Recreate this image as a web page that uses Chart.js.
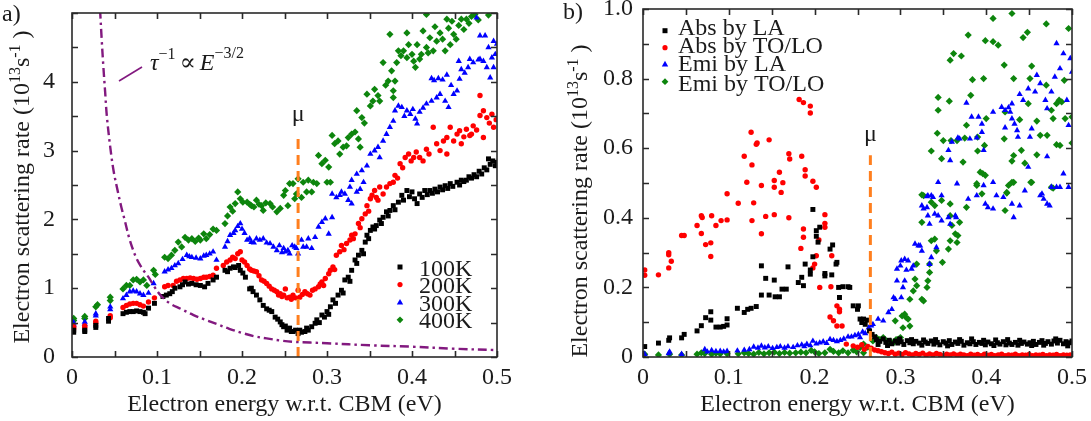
<!DOCTYPE html>
<html>
<head>
<meta charset="utf-8">
<script src="https://cdn.jsdelivr.net/npm/chart.js@4.4.1/dist/chart.umd.min.js"></script>
<style>
  html, body { margin: 0; padding: 0; background: #ffffff; }
  #wrap { position: relative; width: 1091px; height: 421px; overflow: hidden; }
  #ca { position: absolute; left: 0; top: 0; }
  #cb { position: absolute; left: 545px; top: 0; }
  .probe { position: absolute; left: -9999px; top: 0; font-family: "Liberation Serif", "DejaVu Serif", serif; font-size: 24px; }
</style>
</head>
<body>
<div id="wrap">
  <canvas id="ca" width="545" height="421"></canvas>
  <canvas id="cb" width="546" height="421"></canvas>
</div>
<span class="probe">Electron <i>E</i> &#956;</span>
<script>
// ---------- Panel a: total scattering rate vs energy at four temperatures ----------
const a100K = [[0.002,0.39],[0.002,0.36],[0.015,0.39],[0.015,0.37],[0.028,0.46],[0.028,0.43],[0.043,0.56],[0.043,0.52],[0.06,0.63],[0.064,0.65],[0.068,0.66],[0.072,0.66],[0.076,0.67],[0.08,0.66],[0.084,0.65],[0.086,0.63],[0.09,0.71],[0.097,0.78],[0.107,0.88],[0.111,0.9],[0.115,0.92],[0.118,0.95],[0.121,1.0],[0.127,1.02],[0.13,1.05],[0.133,1.09],[0.137,1.06],[0.141,1.07],[0.146,1.05],[0.151,1.04],[0.156,1.02],[0.16,1.07],[0.166,1.12],[0.17,1.16],[0.18,1.26],[0.183,1.24],[0.186,1.29],[0.19,1.31],[0.192,1.3],[0.196,1.33],[0.198,1.26],[0.201,1.22],[0.204,1.16],[0.209,0.99],[0.211,1.0],[0.213,0.95],[0.217,0.9],[0.221,0.83],[0.225,0.75],[0.229,0.7],[0.232,0.68],[0.235,0.66],[0.239,0.58],[0.242,0.55],[0.245,0.51],[0.247,0.47],[0.249,0.44],[0.251,0.45],[0.253,0.39],[0.256,0.42],[0.258,0.37],[0.26,0.37],[0.263,0.39],[0.266,0.34],[0.268,0.39],[0.27,0.36],[0.274,0.37],[0.276,0.42],[0.278,0.39],[0.282,0.44],[0.286,0.49],[0.288,0.54],[0.291,0.5],[0.294,0.61],[0.297,0.58],[0.3,0.66],[0.302,0.62],[0.304,0.73],[0.307,0.83],[0.31,0.78],[0.313,0.9],[0.317,0.97],[0.319,0.93],[0.321,1.12],[0.325,1.16],[0.327,1.1],[0.329,1.26],[0.333,1.41],[0.335,1.36],[0.337,1.48],[0.341,1.55],[0.343,1.5],[0.345,1.67],[0.347,1.77],[0.349,1.72],[0.351,1.84],[0.354,1.89],[0.356,1.86],[0.358,1.91],[0.362,1.99],[0.364,1.94],[0.366,2.03],[0.37,2.11],[0.372,2.05],[0.374,2.13],[0.378,2.2],[0.38,2.14],[0.384,2.25],[0.388,2.35],[0.39,2.28],[0.394,2.42],[0.397,2.33],[0.4,2.4],[0.403,2.3],[0.406,2.23],[0.409,2.37],[0.412,2.32],[0.415,2.42],[0.418,2.36],[0.421,2.42],[0.424,2.38],[0.427,2.44],[0.43,2.4],[0.433,2.47],[0.436,2.43],[0.439,2.49],[0.442,2.45],[0.445,2.52],[0.448,2.48],[0.453,2.54],[0.456,2.5],[0.458,2.57],[0.461,2.55],[0.464,2.57],[0.467,2.62],[0.47,2.6],[0.473,2.65],[0.476,2.62],[0.479,2.7],[0.482,2.66],[0.485,2.75],[0.488,2.72],[0.49,2.88],[0.492,2.8],[0.495,2.85],[0.498,2.78],[0.5,2.83]];

const a200K = [[0.002,0.44],[0.002,0.41],[0.015,0.45],[0.015,0.43],[0.028,0.52],[0.028,0.49],[0.045,0.6],[0.045,0.57],[0.06,0.72],[0.064,0.75],[0.068,0.77],[0.072,0.78],[0.076,0.78],[0.08,0.76],[0.084,0.74],[0.09,0.8],[0.097,0.86],[0.109,1.02],[0.113,1.04],[0.119,1.04],[0.123,1.1],[0.127,1.12],[0.131,1.14],[0.135,1.14],[0.139,1.15],[0.143,1.14],[0.147,1.13],[0.151,1.14],[0.155,1.16],[0.158,1.16],[0.162,1.17],[0.166,1.19],[0.17,1.29],[0.178,1.33],[0.182,1.38],[0.186,1.41],[0.189,1.45],[0.192,1.43],[0.195,1.5],[0.198,1.53],[0.2,1.41],[0.203,1.38],[0.206,1.33],[0.209,1.28],[0.211,1.26],[0.214,1.25],[0.217,1.24],[0.22,1.18],[0.223,1.12],[0.226,1.1],[0.229,1.07],[0.232,1.03],[0.235,0.99],[0.238,0.97],[0.241,0.95],[0.243,0.9],[0.245,0.92],[0.247,0.88],[0.249,0.9],[0.251,0.99],[0.253,0.86],[0.256,0.87],[0.258,0.84],[0.26,0.9],[0.263,0.86],[0.266,0.97],[0.268,0.87],[0.271,0.91],[0.274,0.95],[0.277,0.92],[0.28,0.9],[0.283,0.97],[0.286,0.99],[0.29,1.02],[0.292,1.06],[0.294,1.09],[0.296,1.04],[0.298,1.14],[0.302,1.21],[0.304,1.26],[0.307,1.31],[0.309,1.27],[0.311,1.48],[0.315,1.53],[0.317,1.62],[0.32,1.56],[0.323,1.65],[0.327,1.7],[0.329,1.77],[0.331,1.72],[0.333,1.79],[0.337,1.94],[0.339,1.88],[0.341,2.01],[0.345,2.08],[0.347,2.2],[0.349,2.12],[0.351,2.3],[0.353,2.35],[0.356,2.42],[0.358,2.32],[0.36,2.28],[0.362,2.47],[0.366,2.37],[0.37,2.47],[0.374,2.52],[0.378,2.54],[0.38,2.64],[0.383,2.6],[0.386,2.81],[0.389,2.75],[0.392,2.9],[0.396,2.95],[0.399,2.85],[0.402,2.9],[0.405,2.98],[0.409,2.9],[0.413,2.85],[0.417,3.02],[0.42,2.95],[0.425,3.34],[0.429,3.1],[0.433,3.0],[0.437,3.14],[0.441,3.19],[0.441,2.95],[0.445,3.34],[0.449,3.14],[0.453,3.24],[0.456,3.29],[0.458,3.1],[0.461,3.2],[0.464,3.31],[0.468,3.22],[0.47,3.24],[0.472,3.36],[0.476,3.3],[0.48,3.51],[0.48,3.8],[0.484,3.58],[0.484,3.19],[0.488,3.48],[0.491,3.4],[0.494,3.53],[0.496,3.34],[0.499,3.45]];

const a300K = [[0.002,0.5],[0.002,0.47],[0.015,0.51],[0.015,0.48],[0.028,0.63],[0.028,0.6],[0.045,0.73],[0.045,0.69],[0.06,0.85],[0.064,0.9],[0.068,0.95],[0.072,0.96],[0.076,0.95],[0.08,0.92],[0.084,0.9],[0.09,0.93],[0.096,1.07],[0.109,1.24],[0.113,1.27],[0.117,1.29],[0.121,1.33],[0.125,1.36],[0.13,1.42],[0.135,1.48],[0.138,1.46],[0.141,1.45],[0.146,1.44],[0.151,1.43],[0.155,1.47],[0.158,1.48],[0.162,1.5],[0.166,1.53],[0.17,1.41],[0.18,1.6],[0.183,1.68],[0.186,1.77],[0.19,1.8],[0.192,1.84],[0.195,1.9],[0.198,1.94],[0.2,1.86],[0.203,1.8],[0.206,1.7],[0.209,1.72],[0.211,1.67],[0.214,1.66],[0.217,1.72],[0.221,1.7],[0.225,1.72],[0.229,1.66],[0.233,1.65],[0.237,1.6],[0.241,1.55],[0.244,1.62],[0.247,1.52],[0.249,1.58],[0.251,1.53],[0.254,1.55],[0.256,1.5],[0.259,1.62],[0.262,1.6],[0.264,1.58],[0.266,1.5],[0.27,1.7],[0.272,1.6],[0.276,1.6],[0.278,1.72],[0.282,1.58],[0.286,1.74],[0.29,1.89],[0.294,1.96],[0.298,2.01],[0.302,1.79],[0.306,2.03],[0.306,2.37],[0.311,2.32],[0.315,2.35],[0.317,2.4],[0.321,2.37],[0.325,2.28],[0.327,2.47],[0.329,2.23],[0.329,2.57],[0.335,2.4],[0.335,2.66],[0.339,2.44],[0.341,2.71],[0.343,2.54],[0.347,2.78],[0.351,2.95],[0.356,3.0],[0.36,3.05],[0.362,2.9],[0.366,3.14],[0.37,3.24],[0.374,3.34],[0.378,3.43],[0.38,3.58],[0.384,3.65],[0.388,3.63],[0.391,3.5],[0.394,3.58],[0.398,3.53],[0.401,3.6],[0.404,3.46],[0.406,3.39],[0.409,3.56],[0.413,3.62],[0.417,3.68],[0.423,3.72],[0.423,4.05],[0.426,4.02],[0.429,3.77],[0.431,4.05],[0.433,3.82],[0.436,4.03],[0.439,3.72],[0.441,4.1],[0.443,3.63],[0.446,3.95],[0.449,3.82],[0.453,3.87],[0.455,4.3],[0.456,4.04],[0.458,4.18],[0.462,4.13],[0.466,4.21],[0.468,4.33],[0.472,4.28],[0.476,4.93],[0.478,4.32],[0.48,4.33],[0.48,4.67],[0.484,4.3],[0.486,4.67],[0.488,4.21],[0.49,4.5],[0.492,4.06],[0.494,4.35],[0.496,4.21],[0.496,4.59],[0.498,4.4],[0.5,4.55]];

const a400K = [[0.002,0.56],[0.002,0.53],[0.015,0.59],[0.015,0.56],[0.028,0.73],[0.03,0.76],[0.045,0.87],[0.045,0.82],[0.06,0.99],[0.064,1.04],[0.068,1.04],[0.072,1.12],[0.076,1.13],[0.08,1.09],[0.084,1.12],[0.088,1.04],[0.096,1.26],[0.098,1.2],[0.109,1.45],[0.113,1.43],[0.117,1.48],[0.121,1.55],[0.125,1.67],[0.129,1.6],[0.133,1.74],[0.137,1.7],[0.141,1.72],[0.145,1.68],[0.149,1.73],[0.151,1.7],[0.155,1.79],[0.158,1.72],[0.162,1.78],[0.166,1.86],[0.17,1.84],[0.18,1.94],[0.183,2.05],[0.186,2.18],[0.189,2.12],[0.192,2.23],[0.195,2.4],[0.198,2.3],[0.201,2.25],[0.206,2.25],[0.209,2.22],[0.211,2.2],[0.214,2.18],[0.217,2.28],[0.22,2.22],[0.223,2.2],[0.225,2.13],[0.228,2.24],[0.233,2.23],[0.236,2.18],[0.241,2.11],[0.245,2.16],[0.249,2.35],[0.251,2.42],[0.254,2.2],[0.256,2.52],[0.26,2.52],[0.262,2.3],[0.264,2.37],[0.266,2.59],[0.27,2.32],[0.272,2.54],[0.276,2.4],[0.278,2.57],[0.282,2.4],[0.284,2.54],[0.288,2.52],[0.29,2.93],[0.294,2.81],[0.298,2.86],[0.3,2.54],[0.302,2.76],[0.304,2.54],[0.306,3.22],[0.309,3.1],[0.313,3.14],[0.315,2.95],[0.319,3.05],[0.323,3.07],[0.325,3.19],[0.329,3.24],[0.333,3.27],[0.335,3.58],[0.337,3.17],[0.339,3.05],[0.341,3.48],[0.344,3.4],[0.347,3.82],[0.351,3.65],[0.354,3.72],[0.356,3.89],[0.36,3.8],[0.362,3.72],[0.366,4.28],[0.369,3.95],[0.372,4.01],[0.374,4.69],[0.376,4.16],[0.378,3.87],[0.378,3.77],[0.38,4.01],[0.382,4.28],[0.384,4.45],[0.387,4.38],[0.39,4.45],[0.394,4.35],[0.394,4.71],[0.396,4.54],[0.4,4.4],[0.402,4.3],[0.404,4.21],[0.406,4.54],[0.409,4.33],[0.411,4.4],[0.413,4.74],[0.417,4.5],[0.417,4.98],[0.419,4.42],[0.421,4.64],[0.425,4.45],[0.427,4.8],[0.429,4.59],[0.433,4.71],[0.436,4.62],[0.439,4.45],[0.441,4.91],[0.443,4.78],[0.445,4.54],[0.447,4.88],[0.449,4.69],[0.452,4.62],[0.455,4.82],[0.458,4.91],[0.461,4.76],[0.464,4.91],[0.467,4.85],[0.47,4.95],[0.474,4.98],[0.478,4.9],[0.49,4.97]];

// guide curve tau^-1 ~ E^-3/2
const curveE    = [0.033,0.035,0.037,0.039,0.041,0.045,0.049,0.054,0.058,0.062,0.068,0.076,0.083,0.09,0.097,0.104,0.115,0.128,0.143,0.157,0.17,0.185,0.2,0.215,0.229,0.245,0.26,0.28,0.3,0.35,0.4,0.45,0.5];
const curveRate = [5.05,4.6,4.2,3.85,3.5,3.05,2.7,2.4,2.18,1.99,1.7,1.43,1.28,1.16,1.02,0.9,0.78,0.7,0.61,0.54,0.48,0.41,0.35,0.3,0.27,0.24,0.22,0.21,0.2,0.17,0.15,0.12,0.1];

// chemical potential marker (energy, line top)
const muA = [0.266, 3.22];

// ---------- Panel b: absorption / emission channels at one temperature ----------
const bAbsLA = [[0.002,0.03],[0.018,0.04],[0.03,0.048],[0.031,0.055],[0.045,0.055],[0.048,0.065],[0.063,0.075],[0.068,0.09],[0.073,0.113],[0.079,0.13],[0.079,0.106],[0.085,0.086],[0.09,0.086],[0.094,0.088],[0.098,0.11],[0.098,0.092],[0.11,0.14],[0.118,0.128],[0.122,0.137],[0.126,0.14],[0.132,0.145],[0.138,0.262],[0.138,0.178],[0.143,0.226],[0.147,0.178],[0.153,0.221],[0.154,0.173],[0.159,0.173],[0.162,0.195],[0.167,0.195],[0.169,0.259],[0.181,0.214],[0.185,0.229],[0.187,0.205],[0.189,0.267],[0.195,0.238],[0.195,0.25],[0.198,0.288],[0.198,0.424],[0.202,0.363],[0.202,0.347],[0.206,0.373],[0.204,0.33],[0.212,0.24],[0.212,0.233],[0.22,0.236],[0.218,0.31],[0.221,0.322],[0.226,0.272],[0.225,0.267],[0.229,0.171],[0.228,0.2],[0.233,0.202],[0.239,0.202],[0.241,0.2],[0.245,0.147],[0.251,0.147],[0.25,0.137],[0.253,0.109],[0.257,0.109],[0.255,0.099],[0.259,0.094],[0.261,0.106],[0.264,0.075],[0.267,0.065],[0.27,0.058],[0.272,0.05],[0.276,0.045],[0.28,0.052],[0.283,0.042],[0.287,0.048],[0.29,0.038],[0.294,0.046],[0.297,0.04],[0.301,0.044],[0.304,0.036],[0.308,0.047],[0.311,0.041],[0.315,0.038],[0.318,0.045],[0.322,0.04],[0.325,0.034],[0.329,0.043],[0.332,0.039],[0.336,0.046],[0.339,0.037],[0.343,0.042],[0.346,0.035],[0.35,0.044],[0.353,0.04],[0.357,0.047],[0.36,0.036],[0.364,0.043],[0.367,0.039],[0.371,0.045],[0.374,0.034],[0.378,0.041],[0.381,0.038],[0.385,0.044],[0.388,0.036],[0.392,0.042],[0.395,0.039],[0.399,0.035],[0.402,0.043],[0.406,0.038],[0.409,0.033],[0.413,0.041],[0.416,0.037],[0.42,0.044],[0.423,0.035],[0.427,0.04],[0.43,0.036],[0.434,0.042],[0.437,0.034],[0.441,0.039],[0.444,0.043],[0.448,0.037],[0.451,0.041],[0.455,0.045],[0.458,0.036],[0.462,0.042],[0.465,0.047],[0.469,0.039],[0.472,0.044],[0.476,0.037],[0.479,0.046],[0.483,0.04],[0.486,0.048],[0.49,0.038],[0.493,0.044],[0.497,0.041],[0.5,0.046],[0.274,0.036],[0.285,0.033],[0.299,0.052],[0.313,0.05],[0.327,0.049],[0.341,0.05],[0.355,0.032],[0.369,0.05],[0.383,0.052],[0.397,0.048],[0.411,0.049],[0.425,0.05],[0.439,0.048],[0.453,0.033],[0.467,0.034],[0.481,0.052],[0.495,0.032]];

const bAbsTO = [[0.002,0.25],[0.002,0.235],[0.018,0.236],[0.03,0.3],[0.03,0.294],[0.03,0.256],[0.033,0.275],[0.045,0.349],[0.048,0.349],[0.063,0.378],[0.068,0.406],[0.069,0.401],[0.068,0.355],[0.073,0.323],[0.079,0.328],[0.079,0.289],[0.08,0.406],[0.085,0.378],[0.091,0.392],[0.098,0.394],[0.098,0.469],[0.111,0.442],[0.118,0.577],[0.121,0.502],[0.126,0.646],[0.127,0.552],[0.127,0.392],[0.129,0.443],[0.132,0.611],[0.133,0.615],[0.138,0.493],[0.138,0.354],[0.143,0.404],[0.147,0.624],[0.153,0.507],[0.153,0.488],[0.153,0.409],[0.159,0.531],[0.161,0.473],[0.163,0.501],[0.17,0.4],[0.17,0.584],[0.171,0.569],[0.182,0.74],[0.184,0.312],[0.185,0.577],[0.187,0.731],[0.187,0.368],[0.187,0.344],[0.189,0.538],[0.189,0.52],[0.195,0.721],[0.195,0.701],[0.198,0.505],[0.198,0.256],[0.2,0.267],[0.202,0.488],[0.202,0.291],[0.205,0.336],[0.206,0.2],[0.212,0.409],[0.212,0.384],[0.212,0.373],[0.22,0.291],[0.219,0.202],[0.226,0.147],[0.229,0.137],[0.229,0.13],[0.218,0.115],[0.222,0.104],[0.226,0.089],[0.232,0.089],[0.237,0.037],[0.245,0.032],[0.25,0.028],[0.255,0.035],[0.258,0.022],[0.262,0.03],[0.266,0.025],[0.27,0.02],[0.274,0.018],[0.278,0.015],[0.282,0.012],[0.286,0.01],[0.29,0.014],[0.294,0.008],[0.298,0.011],[0.302,0.007],[0.306,0.012],[0.31,0.009],[0.314,0.006],[0.318,0.01],[0.322,0.007],[0.326,0.011],[0.33,0.005],[0.334,0.009],[0.338,0.006],[0.342,0.01],[0.346,0.007],[0.35,0.004],[0.354,0.008],[0.358,0.006],[0.362,0.009],[0.366,0.005],[0.37,0.008],[0.374,0.006],[0.378,0.004],[0.382,0.008],[0.386,0.005],[0.39,0.007],[0.394,0.004],[0.398,0.008],[0.402,0.005],[0.406,0.007],[0.41,0.004],[0.414,0.006],[0.418,0.008],[0.422,0.004],[0.426,0.006],[0.43,0.005],[0.434,0.008],[0.438,0.004],[0.442,0.006],[0.446,0.005],[0.45,0.007],[0.454,0.004],[0.458,0.006],[0.462,0.005],[0.466,0.007],[0.47,0.004],[0.474,0.006],[0.478,0.005],[0.482,0.007],[0.486,0.004],[0.49,0.006],[0.494,0.005],[0.498,0.006]];

const bEmiLA = [[0.002,0.008],[0.031,0.015],[0.03,0.01],[0.045,0.008],[0.072,0.022],[0.075,0.015],[0.08,0.019],[0.085,0.016],[0.09,0.017],[0.094,0.015],[0.098,0.017],[0.11,0.018],[0.118,0.02],[0.124,0.022],[0.129,0.029],[0.134,0.026],[0.138,0.032],[0.142,0.027],[0.146,0.03],[0.151,0.025],[0.156,0.028],[0.16,0.03],[0.165,0.026],[0.169,0.03],[0.175,0.028],[0.18,0.033],[0.185,0.035],[0.188,0.03],[0.191,0.037],[0.195,0.033],[0.198,0.046],[0.202,0.038],[0.206,0.041],[0.21,0.044],[0.214,0.04],[0.218,0.051],[0.222,0.048],[0.226,0.045],[0.23,0.048],[0.234,0.052],[0.239,0.058],[0.243,0.058],[0.247,0.062],[0.251,0.065],[0.253,0.056],[0.256,0.072],[0.259,0.068],[0.263,0.084],[0.266,0.09],[0.268,0.094],[0.274,0.109],[0.28,0.104],[0.286,0.128],[0.29,0.137],[0.292,0.171],[0.294,0.166],[0.296,0.219],[0.301,0.171],[0.303,0.2],[0.305,0.219],[0.296,0.253],[0.3,0.262],[0.301,0.277],[0.305,0.281],[0.309,0.277],[0.307,0.25],[0.313,0.253],[0.315,0.262],[0.317,0.325],[0.321,0.32],[0.325,0.305],[0.323,0.32],[0.336,0.286],[0.334,0.267],[0.342,0.315],[0.325,0.435],[0.327,0.426],[0.331,0.43],[0.332,0.406],[0.334,0.382],[0.332,0.464],[0.338,0.459],[0.34,0.411],[0.344,0.406],[0.348,0.392],[0.356,0.401],[0.358,0.382],[0.364,0.406],[0.365,0.401],[0.344,0.502],[0.348,0.464],[0.366,0.498],[0.379,0.454],[0.389,0.464],[0.397,0.493],[0.399,0.44],[0.402,0.43],[0.408,0.426],[0.408,0.502],[0.412,0.464],[0.42,0.459],[0.43,0.44],[0.432,0.401],[0.439,0.435],[0.445,0.478],[0.463,0.464],[0.467,0.454],[0.471,0.44],[0.474,0.435],[0.476,0.488],[0.482,0.488],[0.486,0.488],[0.496,0.488],[0.331,0.461],[0.336,0.464],[0.358,0.565],[0.356,0.594],[0.36,0.618],[0.367,0.63],[0.377,0.73],[0.369,0.627],[0.381,0.627],[0.383,0.69],[0.391,0.69],[0.395,0.67],[0.389,0.63],[0.395,0.646],[0.397,0.594],[0.408,0.704],[0.418,0.718],[0.422,0.709],[0.426,0.717],[0.43,0.728],[0.428,0.704],[0.43,0.685],[0.422,0.659],[0.433,0.67],[0.436,0.651],[0.437,0.632],[0.439,0.755],[0.443,0.738],[0.449,0.771],[0.453,0.656],[0.451,0.632],[0.457,0.762],[0.459,0.81],[0.463,0.786],[0.469,0.738],[0.471,0.714],[0.476,0.762],[0.48,0.805],[0.486,0.829],[0.482,0.901],[0.49,0.872],[0.498,0.858],[0.5,0.819],[0.494,0.738],[0.496,0.666],[0.471,0.576],[0.49,0.527],[0.465,0.469],[0.449,0.546]];

const bEmiTO = [[0.002,0.008],[0.018,0.006],[0.031,0.008],[0.045,0.006],[0.063,0.008],[0.068,0.012],[0.072,0.01],[0.08,0.008],[0.085,0.011],[0.09,0.009],[0.098,0.009],[0.111,0.009],[0.118,0.012],[0.123,0.01],[0.129,0.008],[0.135,0.013],[0.141,0.009],[0.147,0.012],[0.153,0.014],[0.159,0.01],[0.165,0.013],[0.171,0.011],[0.178,0.012],[0.184,0.014],[0.19,0.012],[0.196,0.019],[0.2,0.015],[0.205,0.01],[0.212,0.012],[0.218,0.022],[0.222,0.016],[0.228,0.012],[0.233,0.018],[0.239,0.012],[0.245,0.02],[0.249,0.015],[0.253,0.027],[0.257,0.012],[0.257,0.037],[0.262,0.028],[0.268,0.046],[0.272,0.056],[0.276,0.05],[0.28,0.056],[0.284,0.046],[0.288,0.046],[0.292,0.041],[0.295,0.05],[0.298,0.051],[0.3,0.056],[0.303,0.084],[0.307,0.113],[0.309,0.109],[0.311,0.089],[0.305,0.123],[0.302,0.118],[0.294,0.104],[0.311,0.166],[0.315,0.19],[0.319,0.205],[0.325,0.166],[0.327,0.161],[0.317,0.224],[0.331,0.2],[0.332,0.219],[0.334,0.243],[0.334,0.267],[0.319,0.267],[0.342,0.305],[0.34,0.339],[0.336,0.334],[0.349,0.272],[0.356,0.31],[0.358,0.334],[0.36,0.378],[0.364,0.354],[0.366,0.329],[0.367,0.349],[0.369,0.387],[0.358,0.406],[0.325,0.387],[0.327,0.464],[0.336,0.445],[0.34,0.435],[0.348,0.45],[0.358,0.44],[0.377,0.43],[0.389,0.493],[0.395,0.469],[0.424,0.473],[0.422,0.421],[0.426,0.493],[0.432,0.502],[0.453,0.502],[0.476,0.488],[0.408,0.973],[0.43,0.987],[0.47,0.957],[0.496,0.944],[0.379,0.925],[0.399,0.909],[0.408,0.906],[0.414,0.896],[0.443,0.918],[0.448,0.933],[0.362,0.872],[0.358,0.853],[0.371,0.865],[0.421,0.839],[0.453,0.836],[0.384,0.797],[0.397,0.8],[0.432,0.8],[0.451,0.8],[0.491,0.795],[0.47,0.781],[0.344,0.746],[0.357,0.735],[0.382,0.752],[0.344,0.709],[0.485,0.738],[0.488,0.733],[0.482,0.728],[0.449,0.728],[0.422,0.704],[0.476,0.709],[0.478,0.685],[0.492,0.685],[0.459,0.678],[0.439,0.682],[0.4,0.685],[0.377,0.666],[0.343,0.643],[0.35,0.622],[0.359,0.622],[0.366,0.622],[0.375,0.629],[0.39,0.632],[0.398,0.608],[0.421,0.627],[0.441,0.594],[0.463,0.637],[0.471,0.637],[0.482,0.61],[0.486,0.608],[0.336,0.592],[0.348,0.57],[0.373,0.56],[0.39,0.592],[0.432,0.579],[0.43,0.563],[0.445,0.557],[0.459,0.581],[0.478,0.485],[0.393,0.531],[0.396,0.527],[0.399,0.522],[0.43,0.502],[0.452,0.502],[0.389,0.498],[0.424,0.471],[0.325,0.466],[0.5,0.69],[0.5,0.615]];

const muB = [0.265, 0.58];

// tick labels
const xLabels  = ['0', '0.1', '0.2', '0.3', '0.4', '0.5'];
const yLabelsA = ['0', '1', '2', '3', '4'];
const yLabelsB = ['0', '0.2', '0.4', '0.6', '0.8', '1.0'];

// series names
const namesA = ['100K', '200K', '300K', '400K'];
const namesB = ['Abs by LA', 'Abs by TO/LO', 'Emi by LA', 'Emi by TO/LO'];

// ---------- styling ----------
const SERIF = '"Liberation Serif", "DejaVu Serif", serif';
const INK = '#1b1b1b';
const COLORS = ['#000000', '#ff0000', '#0000ff', '#0d850d'];
const SHAPES = ['rect', 'circle', 'triangle', 'rectRot'];
const RADII  = [3.5, 2.7, 3.6, 3.6];
const PURPLE = '#82197f';
const ORANGE = '#ff7f1e';

const toXY = arr => arr.map(([x, y]) => ({ x, y }));

function scatterSet(label, data, i) {
  return {
    type: 'scatter', label, data: toXY(data), showLine: false,
    pointStyle: SHAPES[i], pointRadius: RADII[i], pointBorderWidth: 0,
    backgroundColor: COLORS[i], borderColor: COLORS[i], pointHoverRadius: RADII[i]
  };
}

// measure / draw text with super-script parts
function richWidth(ctx, parts) {
  let w = 0;
  for (const p of parts) { ctx.font = p.font; w += ctx.measureText(p.t).width + (p.gap || 0); }
  return w;
}
function drawRich(ctx, parts, x, y, align) {
  const w = richWidth(ctx, parts);
  let cx = align === 'center' ? x - w / 2 : align === 'right' ? x - w : x;
  ctx.textAlign = 'left';
  ctx.textBaseline = 'alphabetic';
  for (const p of parts) {
    ctx.font = p.font;
    ctx.fillText(p.t, cx, y - (p.rise || 0));
    cx += ctx.measureText(p.t).width + (p.gap || 0);
  }
}

function legendMarker(ctx, shape, color, x, y) {
  ctx.fillStyle = color;
  ctx.beginPath();
  if (shape === 'rect') ctx.rect(x - 2.5, y - 2.5, 5, 5);
  else if (shape === 'circle') ctx.arc(x, y, 2.6, 0, Math.PI * 2);
  else if (shape === 'triangle') { ctx.moveTo(x, y - 3.2); ctx.lineTo(x + 3.2, y + 2.4); ctx.lineTo(x - 3.2, y + 2.4); ctx.closePath(); }
  else { ctx.moveTo(x, y - 3.4); ctx.lineTo(x + 3.4, y); ctx.lineTo(x, y + 3.4); ctx.lineTo(x - 3.4, y); ctx.closePath(); }
  ctx.fill();
}

const F24 = '24px ' + SERIF;
const F16 = '16px ' + SERIF;
const yTitleParts = [
  { t: 'Electron scattering rate (10', font: F24 },
  { t: '13', font: F16, rise: 9 },
  { t: 's', font: F24 },
  { t: '-1', font: F16, rise: 9 },
  { t: ' )', font: F24 }
];

// frame with inward ticks on all four sides
const frameTicks = {
  id: 'frameTicks',
  afterDatasetsDraw(chart) {
    const { ctx, chartArea: a, scales: { x, y } } = chart;
    const L = 6;
    ctx.save();
    ctx.strokeStyle = '#2a2a2a';
    ctx.lineWidth = 1.6;
    ctx.beginPath();
    x.ticks.forEach(t => {
      const px = Math.round(x.getPixelForValue(t.value)) + 0.5;
      ctx.moveTo(px, a.bottom); ctx.lineTo(px, a.bottom - L);
      ctx.moveTo(px, a.top); ctx.lineTo(px, a.top + L);
    });
    y.ticks.forEach(t => {
      const py = Math.round(y.getPixelForValue(t.value)) + 0.5;
      ctx.moveTo(a.left, py); ctx.lineTo(a.left + L, py);
      ctx.moveTo(a.right, py); ctx.lineTo(a.right - L, py);
    });
    ctx.stroke();
    ctx.strokeRect(a.left, a.top, a.right - a.left, a.bottom - a.top);
    ctx.restore();
  }
};

function xScale() {
  return {
    type: 'linear', min: 0, max: 0.5,
    ticks: {
      stepSize: 0.05, autoSkip: false, maxRotation: 0, padding: 6,
      color: INK, font: { family: SERIF, size: 24 },
      callback: (v, i) => (i % 2 === 0 ? xLabels[i / 2] : '')
    },
    grid: { display: false, drawTicks: false },
    border: { display: false },
    afterFit: s => { s.height = 64; s.paddingLeft = 0; s.paddingRight = 0; }
  };
}

function yScale(max, step, labels, width, pad) {
  return {
    type: 'linear', min: 0, max,
    ticks: {
      stepSize: step, autoSkip: false, padding: pad,
      color: INK, font: { family: SERIF, size: 24 },
      callback: (v, i) => (i % 2 === 0 && labels[i / 2] !== undefined ? labels[i / 2] : '')
    },
    grid: { display: false, drawTicks: false },
    border: { display: false },
    afterFit: s => { s.width = width; s.paddingTop = 0; s.paddingBottom = 0; }
  };
}

const common = {
  responsive: false, animation: false, devicePixelRatio: 1, events: [],
  plugins: { legend: { display: false }, tooltip: { enabled: false } }
};

// ---------- chart a ----------
const textA = {
  id: 'textA',
  afterDraw(chart) {
    const { ctx, chartArea: a } = chart;
    ctx.save();
    ctx.fillStyle = INK;
    // panel tag
    ctx.font = F24; ctx.textAlign = 'left'; ctx.textBaseline = 'alphabetic';
    ctx.fillText('a)', 2, 21);
    // axis titles
    ctx.textAlign = 'center';
    ctx.fillText('Electron energy w.r.t. CBM (eV)', (a.left + a.right) / 2, 411);
    ctx.save();
    ctx.translate(29, (a.top + a.bottom) / 2 + 2);
    ctx.rotate(-Math.PI / 2);
    drawRich(ctx, yTitleParts, 0, 0, 'center');
    ctx.restore();
    // mu label
    ctx.font = F24; ctx.textAlign = 'center';
    ctx.fillText('\u03bc', chart.scales.x.getPixelForValue(muA[0]), 121);
    // tau formula with pointer
    ctx.strokeStyle = PURPLE; ctx.lineWidth = 1.6;
    ctx.beginPath(); ctx.moveTo(119, 81); ctx.lineTo(142, 67); ctx.stroke();
    const FI24 = 'italic 24px ' + SERIF;
    drawRich(ctx, [
      { t: '\u03c4', font: FI24 },
      { t: '\u22121', font: F16, rise: 11, gap: 4 },
      { t: '\u221d', font: F24, gap: 4 },
      { t: 'E', font: FI24 },
      { t: '\u22123/2', font: F16, rise: 12 }
    ], 150, 70, 'left');
    // legend
    namesA.forEach((n, i) => {
      const y = 267 + i * 17.6;
      legendMarker(ctx, SHAPES[i], COLORS[i], 400, y);
      ctx.fillStyle = INK; ctx.font = F24; ctx.textAlign = 'left';
      ctx.fillText(n, 419, y + 8.5);
    });
    ctx.restore();
  }
};

// ---------- chart b ----------
const textB = {
  id: 'textB',
  afterDraw(chart) {
    const { ctx, chartArea: a } = chart;
    ctx.save();
    ctx.fillStyle = INK;
    ctx.font = F24; ctx.textAlign = 'left'; ctx.textBaseline = 'alphabetic';
    ctx.fillText('b)', 18, 19);
    ctx.textAlign = 'center';
    ctx.fillText('Electron energy w.r.t. CBM (eV)', (a.left + a.right) / 2, 411);
    ctx.save();
    ctx.translate(42, 201);
    ctx.rotate(-Math.PI / 2);
    drawRich(ctx, yTitleParts, 0, 0, 'center');
    ctx.restore();
    ctx.font = F24; ctx.textAlign = 'center';
    ctx.fillText('\u03bc', chart.scales.x.getPixelForValue(muB[0]), 141);
    const markY = [30.7, 47.7, 64, 81.7];
    const baseY = [34.5, 53, 70.5, 90.5];
    namesB.forEach((n, i) => {
      legendMarker(ctx, SHAPES[i], COLORS[i], 120, markY[i]);
      ctx.fillStyle = INK; ctx.font = F24; ctx.textAlign = 'left';
      ctx.fillText(n, 133, baseY[i]);
    });
    ctx.restore();
  }
};

function build() {
  new Chart(document.getElementById('ca'), {
    data: {
      datasets: [
        scatterSet(namesA[0], a100K, 0),
        scatterSet(namesA[1], a200K, 1),
        scatterSet(namesA[2], a300K, 2),
        scatterSet(namesA[3], a400K, 3),
        {
          type: 'line', label: 'E^-3/2', data: curveE.map((e, i) => ({ x: e, y: curveRate[i] })),
          borderColor: PURPLE, borderWidth: 2.4, borderDash: [9, 4, 2.5, 4],
          pointRadius: 0, tension: 0.35, fill: false, order: -1
        },
        {
          type: 'line', label: 'mu', data: [{ x: muA[0], y: 0 }, { x: muA[0], y: muA[1] }],
          borderColor: ORANGE, borderWidth: 3, borderDash: [10, 6], pointRadius: 0, order: -2
        }
      ]
    },
    options: Object.assign({}, common, {
      layout: { padding: { top: 13, right: 48, left: 0, bottom: 0 } },
      scales: { x: xScale(), y: yScale(5, 0.5, yLabelsA, 72, 17) }
    }),
    plugins: [frameTicks, textA]
  });

  new Chart(document.getElementById('cb'), {
    data: {
      datasets: [
        scatterSet(namesB[0], bAbsLA, 0),
        scatterSet(namesB[1], bAbsTO, 1),
        scatterSet(namesB[2], bEmiLA, 2),
        scatterSet(namesB[3], bEmiTO, 3),
        {
          type: 'line', label: 'mu', data: [{ x: muB[0], y: 0 }, { x: muB[0], y: muB[1] }],
          borderColor: ORANGE, borderWidth: 3, borderDash: [10, 6], pointRadius: 0, order: -2
        }
      ]
    },
    options: Object.assign({}, common, {
      layout: { padding: { top: 9, right: 19, left: 0, bottom: 0 } },
      scales: { x: xScale(), y: yScale(1.0, 0.1, yLabelsB, 98, 10) }
    }),
    plugins: [frameTicks, textB]
  });
}

// make sure the serif face is ready before the canvases are painted
let built = false;
function buildOnce() { if (!built) { built = true; build(); } }
if (document.fonts && document.fonts.load) {
  Promise.all([
    document.fonts.load('24px "Liberation Serif"'),
    document.fonts.load('italic 24px "Liberation Serif"')
  ]).then(buildOnce, buildOnce);
  setTimeout(buildOnce, 800);
} else {
  buildOnce();
}
</script>
</body>
</html>
